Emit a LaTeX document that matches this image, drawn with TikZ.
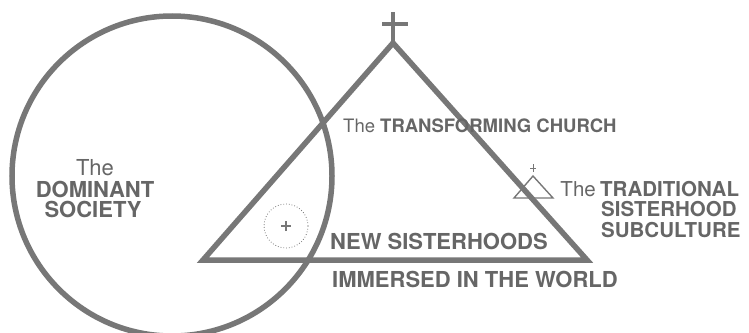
\documentclass[tikz,border=0pt]{standalone}
\usepackage{fontspec}
\setmainfont{TeX Gyre Heros}
\definecolor{ink}{HTML}{666666}
\definecolor{linec}{HTML}{777777}
\begin{document}
\begin{tikzpicture}[x=1pt,y=-1pt,
  heavy/.style={draw=linec, line width=5.5pt},
  thin/.style={draw=linec, line width=1.4pt},
  lbl/.style={text=ink, inner sep=0pt, font=\fontsize{22}{22}\selectfont},
  lblside/.style={text=ink, inner sep=0pt, font=\fontsize{20.5}{20.5}\selectfont},
  lblsmall/.style={text=ink, inner sep=0pt, font=\fontsize{18.5}{18.5}\selectfont}]
\useasboundingbox (0,0) rectangle (749,332);
\clip (0,0) rectangle (749,332);
% the dominant society circle
\coordinate (sc) at (172,176);
\draw[heavy] (sc) circle[radius=160];
% the transforming church triangle
\coordinate (apex) at (393,43);
\coordinate (bl) at (203,260);
\coordinate (br) at (587,260);
\draw[heavy] (apex) -- (bl) -- (br) -- cycle;
% cross on top
\coordinate (ct) at (393,12);
\coordinate (cl) at (382,24);
\coordinate (cr) at (408,24);
\draw[draw=linec, line width=3.5pt] (ct) -- (apex);
\draw[draw=linec, line width=3.5pt] (cl) -- (cr);
% dotted circle with plus
\coordinate (dc) at (286,226);
\draw[draw=linec, line width=0.8pt, dotted] (dc) circle[radius=22];
\draw[draw=linec, line width=1.2pt] ([xshift=-5pt]dc) -- ([xshift=5pt]dc);
\draw[draw=linec, line width=1.2pt] ([yshift=-5pt]dc) -- ([yshift=5pt]dc);
% small traditional triangle
\coordinate (ta) at (533,176);
\coordinate (tl) at (514,198);
\coordinate (tr) at (553,198);
\draw[thin] (ta) -- (tl) -- (tr) -- cycle;
\coordinate (tp) at (533,168);
\draw[draw=linec, line width=0.8pt] ([yshift=-4pt]tp) -- ([yshift=4pt]tp);
\draw[draw=linec, line width=0.8pt] ([xshift=-3pt]tp) -- ([xshift=3pt]tp);
% texts
\node[lblsmall, anchor=base west] (church) at (343,132) {The \textbf{TRANSFORMING CHURCH}};
\node[lblside, anchor=base west] (trad) at (600,196) {\textbf{TRADITIONAL}};
\node[lblside, anchor=base east] (tradthe) at (596,196) {The};
\node[lblside, anchor=base west] (sister) at (601,216) {\textbf{SISTERHOOD}};
\node[lblside, anchor=base west] (subcult) at (601,237) {\textbf{SUBCULTURE}};
\node[lbl, anchor=base west] (newsis) at (330,249) {\textbf{NEW SISTERHOODS}};
\node[lbl, anchor=base west] (immersed) at (332,287) {\textbf{IMMERSED IN THE WORLD}};
\node[lbl, anchor=base] (domthe) at (95,175) {The};
\node[lbl, anchor=base] (dom) at (95,197) {\textbf{DOMINANT}};
\node[lbl, anchor=base] (soc) at (93,217) {\textbf{SOCIETY}};
\end{tikzpicture}
\end{document}
